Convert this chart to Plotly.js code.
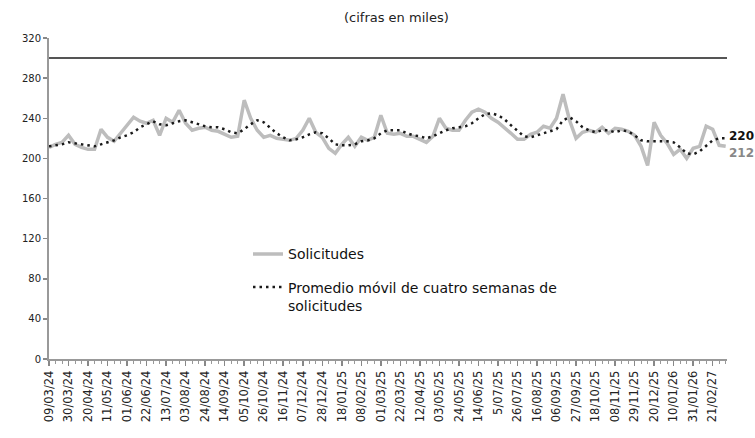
<!DOCTYPE html>
<html>
<head>
<meta charset="utf-8">
<script src="https://cdn.plot.ly/plotly-3.0.1.min.js"></script>
<style>html,body{margin:0;padding:0;background:#fff;}#chart{width:755px;height:438px;}</style>
</head>
<body>
<div id="chart"></div>
<script>
// Tick labels (every third week), as printed on the original chart
const tickLabels = ["09/03/24","30/03/24","20/04/24","11/05/24","01/06/24","22/06/24","13/07/24","03/08/24","24/08/24","14/09/24","05/10/24","26/10/24","16/11/24","07/12/24","28/12/24","18/01/25","08/02/25","01/03/25","22/03/25","12/04/25","03/05/25","24/05/25","14/06/25","5/07/25","26/07/25","16/08/25","06/09/25","27/09/25","18/10/25","08/11/25","29/11/25","20/12/25","10/01/26","31/01/26","21/02/27"];

// Weekly initial claims (thousands)
const solicitudes = [211,214,216,223,214,211,209,209,229,221,217,225,233,241,237,235,238,223,240,236,248,235,228,230,231,228,227,224,221,222,258,240,228,221,223,220,219,218,220,228,240,226,221,210,205,214,221,212,221,218,221,243,225,224,225,222,222,219,216,222,240,230,228,228,238,246,249,246,240,236,231,225,219,219,224,226,232,230,240,264,238,220,226,228,226,231,225,230,229,227,223,212,193,236,223,215,204,209,200,210,212,232,229,213,212];

// Four-week moving average (thousands)
const promedio = [212,213,214,216,215,214,213,212,214,216,218,221,223,226,231,234,237,234,233,235,237,238,236,234,232,231,231,229,226,225,229,234,238,236,230,225,221,218,219,221,224,226,225,220,214,213,213,214,217,218,220,225,228,228,228,225,223,222,220,222,225,228,230,231,232,235,240,244,245,243,239,233,227,222,221,223,225,227,229,238,241,237,231,228,226,228,228,226,228,227,223,218,217,217,217,217,216,211,205,204,207,213,218,220,220];

const referenceLevel = 300;

const weeks = solicitudes.map((_, i) => i);
const tickVals = tickLabels.map((_, i) => i * 3);

const FONT = "DejaVu Sans, Liberation Sans, sans-serif";

const traces = [
  {
    x: weeks, y: solicitudes, type: "scatter", mode: "lines",
    name: "Solicitudes", legendgroup: "a",
    line: {color: "#bdbdbd", width: 3.5}
  },
  {
    x: weeks, y: promedio, type: "scatter", mode: "lines",
    name: "Promedio móvil de cuatro semanas de<br>solicitudes", legendgroup: "b",
    line: {color: "#1a1a1a", width: 2.5, dash: "2.5px,4px"}
  }
];

const layout = {
  width: 755, height: 438,
  margin: {l: 49, r: 28, t: 38, b: 79},
  paper_bgcolor: "#fff", plot_bgcolor: "#fff",
  font: {family: FONT, color: "#222"},
  showlegend: true,
  legend: {
    x: 0.2935, y: 0.376, xanchor: "left", yanchor: "top",
    bgcolor: "rgba(0,0,0,0)", borderwidth: 0,
    font: {family: FONT, size: 14, color: "#111"},
    tracegroupgap: 12, valign: "top", itemwidth: 30
  },
  xaxis: {
    range: [0, 104.2], showgrid: false, zeroline: false,
    showline: true, linecolor: "#999", linewidth: 2,
    tickmode: "array", tickvals: tickVals, ticktext: tickLabels,
    tickangle: -90, ticks: "outside", ticklen: 5, tickcolor: "#888", tickwidth: 1.5,
    minor: {dtick: 1, ticks: "outside", ticklen: 3, tickcolor: "#999", tickwidth: 1},
    tickfont: {family: FONT, size: 11.5, color: "#222"}
  },
  yaxis: {
    range: [0, 320], dtick: 40, tick0: 0, showgrid: false, zeroline: false,
    showline: true, linecolor: "#999", linewidth: 2,
    ticks: "outside", ticklen: 4, tickcolor: "#888", tickwidth: 1.5,
    tickfont: {family: FONT, size: 10, color: "#222"}
  },
  shapes: [
    {type: "line", xref: "paper", yref: "y", x0: 0, x1: 1, y0: referenceLevel, y1: referenceLevel,
     line: {color: "#555", width: 2}}
  ],
  annotations: [
    {text: "(cifras en miles)", xref: "paper", yref: "paper", x: 0.512, y: 1.063,
     xanchor: "center", yanchor: "middle", showarrow: false,
     font: {family: FONT, size: 13, color: "#222"}},
    {text: "<b>" + promedio[promedio.length - 1] + "</b>", xref: "paper", yref: "y",
     x: 1.0, y: 222, xanchor: "left", yanchor: "middle", showarrow: false,
     font: {family: FONT, size: 12, color: "#111"}},
    {text: "<b>" + solicitudes[solicitudes.length - 1] + "</b>", xref: "paper", yref: "y",
     x: 1.0, y: 205, xanchor: "left", yanchor: "middle", showarrow: false,
     font: {family: FONT, size: 12, color: "#888"}}
  ]
};

Plotly.newPlot("chart", traces, layout, {displayModeBar: false, staticPlot: true});
</script>
</body>
</html>
